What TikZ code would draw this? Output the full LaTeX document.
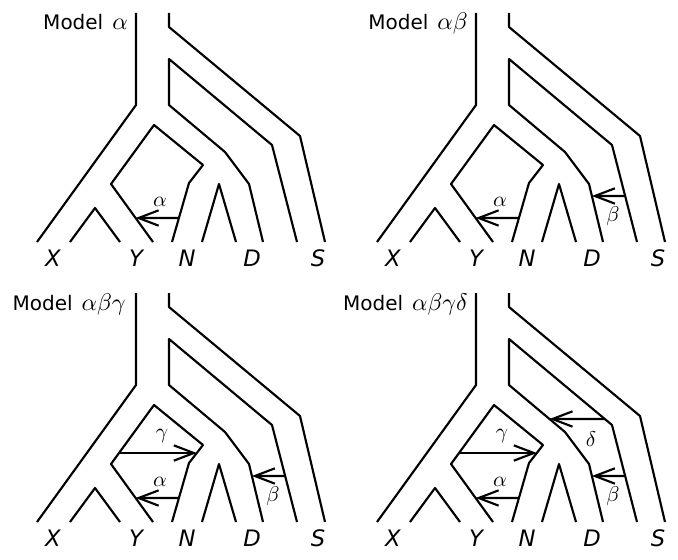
\documentclass[tikz,border=0pt]{standalone}
\usepackage{fontspec}
\setmainfont{DejaVu Sans}
\usetikzlibrary{arrows.meta}
% math italic at any size
\DeclareFontShape{OML}{cmm}{m}{it}{<->cmmi10}{\skewchar\font'177}

\tikzset{
  branch/.style={line width=1.6pt, line join=round},
  flowarrow/.style={line width=1.6pt, -{Straight Barb[length=15pt,width=11.5pt]}},
  taxon/.style={font=\fontsize{17}{17}\selectfont\itshape, anchor=center},
  paneltitle/.style={font=\fontsize{15}{15}\selectfont, anchor=base east, inner sep=0pt},
  rate/.style={font=\fontsize{16}{16}\selectfont, anchor=center, inner sep=0pt},
}

% Species tree drawn as tube outlines; #1 is the prefix of its coordinate names
\newcommand\speciestree[1]{%
  % outer left wall
  \coordinate (#1lt) at (136,13);  \coordinate (#1lk) at (136,105); \coordinate (#1lx) at (37,242);
  % outer right wall
  \coordinate (#1rt) at (169,13);  \coordinate (#1rk) at (169,27);
  \coordinate (#1sk) at (300,136); \coordinate (#1sb) at (325,242);
  % wall between S and the N/D clade
  \coordinate (#1db2) at (297,242); \coordinate (#1dk2) at (272,145);
  \coordinate (#1ik) at (169,59);   \coordinate (#1ib) at (169,105);
  \coordinate (#1nk1) at (225,152); \coordinate (#1nk2) at (249,184);
  \coordinate (#1db) at (263,242);
  % wall around the Y/N gap
  \coordinate (#1yb) at (153,242); \coordinate (#1bl) at (111,184);
  \coordinate (#1bt) at (154,125); \coordinate (#1br) at (203,165);
  \coordinate (#1bn) at (189,183); \coordinate (#1nb) at (172,242);
  % X/Y split
  \coordinate (#1xa) at (70,242);  \coordinate (#1xt) at (95,208);  \coordinate (#1xb) at (120,242);
  % N/D split
  \coordinate (#1na) at (202,242); \coordinate (#1nt) at (219,184); \coordinate (#1nd) at (236,242);
  % heights of the migration arrows
  \coordinate (#1alphaA) at (0,218); \coordinate (#1alphaB) at (10,218);
  \coordinate (#1betaA)  at (0,196); \coordinate (#1betaB)  at (10,196);
  \coordinate (#1gammaA) at (0,173); \coordinate (#1gammaB) at (10,173);
  \coordinate (#1deltaA) at (0,139); \coordinate (#1deltaB) at (10,139);
  \draw[branch] (#1lt) -- (#1lk) -- (#1lx);
  \draw[branch] (#1rt) -- (#1rk) -- (#1sk) -- (#1sb);
  \draw[branch] (#1db2) -- (#1dk2) -- (#1ik) -- (#1ib) -- (#1nk1) -- (#1nk2) -- (#1db);
  \draw[branch] (#1yb) -- (#1bl) -- (#1bt) -- (#1br) -- (#1bn) -- (#1nb);
  \draw[branch] (#1xa) -- (#1xt) -- (#1xb);
  \draw[branch] (#1na) -- (#1nt) -- (#1nd);
  \node[taxon] (#1X) at (53,258)  {X};
  \node[taxon] (#1Y) at (136,258) {Y};
  \node[taxon] (#1N) at (187,258) {N};
  \node[taxon] (#1D) at (252,258) {D};
  \node[taxon] (#1S) at (318,258) {S};
}

% Migration arrow #2 in tree #1, from wall #3--#4 to wall #5--#6
\newcommand\migration[6]{%
  \coordinate (#1#2src) at (intersection of #1#3--#1#4 and #1#2A--#1#2B);
  \coordinate (#1#2dst) at (intersection of #1#5--#1#6 and #1#2A--#1#2B);
  \draw[flowarrow] (#1#2src) -- (#1#2dst);
}

\newcommand\alphaflow[1]{\migration{#1}{alpha}{bn}{nb}{bl}{yb}%
  \node[rate] (#1alphalbl) at (160,202) {$\alpha$};}
\newcommand\betaflow[1]{\migration{#1}{beta}{dk2}{db2}{nk2}{db}%
  \node[rate] (#1betalbl) at (273,216) {$\beta$};}
\newcommand\gammaflow[1]{\migration{#1}{gamma}{bt}{bl}{br}{bn}%
  \node[rate] (#1gammalbl) at (162,156) {$\gamma$};}
\newcommand\deltaflow[1]{\migration{#1}{delta}{ik}{dk2}{ib}{nk1}%
  \node[rate] (#1deltalbl) at (251,159) {$\delta$};}

\newcommand\titlemath[1]{\hspace{0.45em}{\fontsize{18}{18}\selectfont$#1$}}

\begin{document}
\begin{tikzpicture}[x=0.75pt, y=-0.75pt]
  \useasboundingbox (0,0) rectangle (678,560);

  \begin{scope}
    \speciestree{a}
    \alphaflow{a}
    \node[paneltitle] (atitle) at (128,30) {Model\titlemath{\alpha}};
  \end{scope}

  \begin{scope}[shift={(340,0)}]
    \speciestree{b}
    \alphaflow{b}
    \betaflow{b}
    \node[paneltitle] (btitle) at (128,30) {Model\titlemath{\alpha\beta}};
  \end{scope}

  \begin{scope}[shift={(0,280)}]
    \speciestree{c}
    \alphaflow{c}
    \betaflow{c}
    \gammaflow{c}
    \node[paneltitle] (ctitle) at (126,30) {Model\titlemath{\alpha\beta\gamma}};
  \end{scope}

  \begin{scope}[shift={(340,280)}]
    \speciestree{d}
    \alphaflow{d}
    \betaflow{d}
    \gammaflow{d}
    \deltaflow{d}
    \node[paneltitle] (dtitle) at (128,30) {Model\titlemath{\alpha\beta\gamma\delta}};
  \end{scope}
\end{tikzpicture}
\end{document}
